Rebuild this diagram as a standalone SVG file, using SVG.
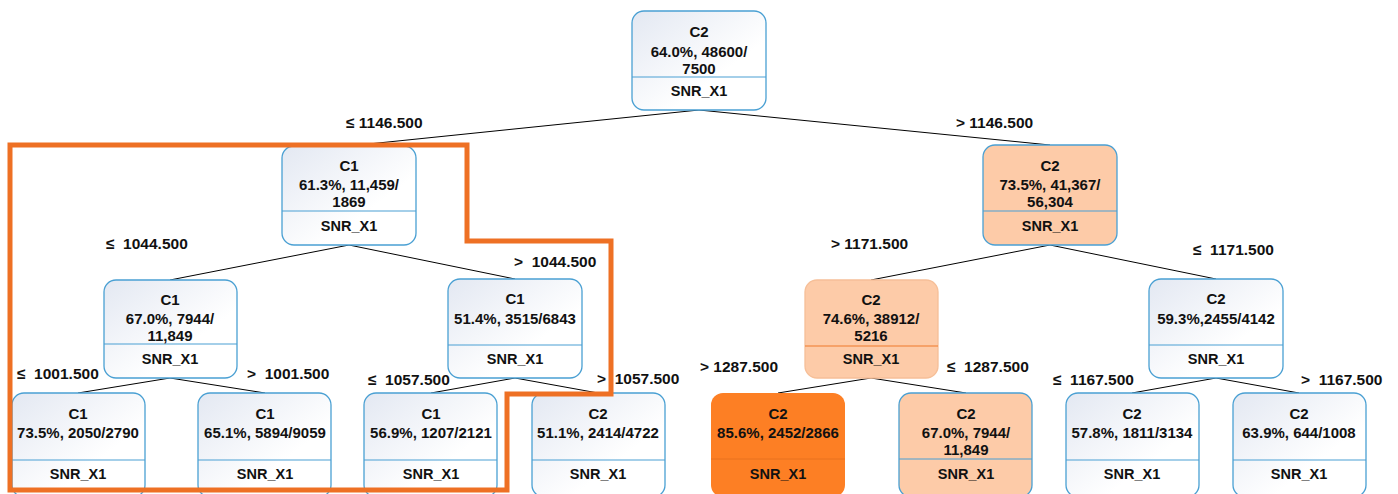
<svg xmlns="http://www.w3.org/2000/svg" width="1398" height="494" viewBox="0 0 1398 494">
  <defs>
    <linearGradient id="nodeFill" x1="0" y1="0" x2="1" y2="1">
      <stop offset="0" stop-color="#e3e8f2"/>
      <stop offset="0.65" stop-color="#ffffff"/>
      <stop offset="1" stop-color="#ffffff"/>
    </linearGradient>
    <style>
      .box { fill: url(#nodeFill); stroke: #4aa0d3; stroke-width: 1.3; }
      .box-peach { fill: #fdcba8; stroke: #4aa0d3; stroke-width: 1.3; }
      .box-peach-soft { fill: #fdcba8; stroke: #f6bf98; stroke-width: 1.3; }
      .box-hot { fill: #fd7f24; stroke: none; }
      .div { stroke: #4aa0d3; stroke-width: 1.2; }
      .div-orange { stroke: #f07a2a; stroke-width: 1.2; }
      .div-hot { stroke: #e8721e; stroke-width: 1; }
      .t { font-family: "Liberation Sans", Arial, sans-serif; font-weight: bold; font-size: 15px; fill: #111; text-anchor: middle; }
      .s { font-family: "Liberation Sans", Arial, sans-serif; font-weight: bold; font-size: 14.5px; fill: #111; text-anchor: middle; }
      .lbl { font-family: "Liberation Sans", Arial, sans-serif; font-weight: bold; font-size: 15.5px; fill: #111; white-space: pre; }
      .edge { stroke: #000; stroke-width: 1; fill: none; }
      .frame { fill: none; stroke: #ee7024; stroke-width: 5; stroke-linejoin: miter; }
    </style>
  </defs>

  <!-- connectors -->
  <g id="connectors">
    <line class="edge" x1="699" y1="110" x2="349" y2="146"/>
    <line class="edge" x1="699" y1="110" x2="1050" y2="145"/>
    <line class="edge" x1="349" y1="245" x2="170" y2="280"/>
    <line class="edge" x1="349" y1="245" x2="515" y2="279"/>
    <line class="edge" x1="1050" y1="245" x2="871" y2="280"/>
    <line class="edge" x1="1050" y1="245" x2="1216" y2="279"/>
    <line class="edge" x1="170" y1="378" x2="78" y2="393"/>
    <line class="edge" x1="170" y1="378" x2="265" y2="393"/>
    <line class="edge" x1="515" y1="378" x2="431" y2="393"/>
    <line class="edge" x1="515" y1="378" x2="598" y2="393"/>
    <line class="edge" x1="871" y1="378" x2="778" y2="393"/>
    <line class="edge" x1="871" y1="378" x2="966" y2="393"/>
    <line class="edge" x1="1216" y1="378" x2="1132" y2="393"/>
    <line class="edge" x1="1216" y1="378" x2="1299" y2="393"/>
  </g>

  <!-- split labels -->
  <g id="labels">
    <text class="lbl" x="346" y="128">≤ 1146.500</text>
    <text class="lbl" x="956" y="128">&gt; 1146.500</text>
    <text class="lbl" x="106" y="249">≤  1044.500</text>
    <text class="lbl" x="514" y="267">&gt;  1044.500</text>
    <text class="lbl" x="831" y="249">&gt; 1171.500</text>
    <text class="lbl" x="1193" y="255">≤  1171.500</text>
    <text class="lbl" x="17" y="379">≤  1001.500</text>
    <text class="lbl" x="247" y="379">&gt;  1001.500</text>
    <text class="lbl" x="368" y="385">≤  1057.500</text>
    <text class="lbl" x="597" y="384">&gt;  1057.500</text>
    <text class="lbl" x="700" y="372">&gt; 1287.500</text>
    <text class="lbl" x="947" y="372">≤  1287.500</text>
    <text class="lbl" x="1053" y="385">≤  1167.500</text>
    <text class="lbl" x="1301" y="385">&gt;  1167.500</text>
  </g>

  <!-- root -->
  <g id="n-root">
    <rect class="box" x="632" y="11" width="134" height="99" rx="12"/>
    <line class="div" x1="632" y1="77" x2="766" y2="77"/>
    <text class="t" x="699" y="37">C2</text>
    <text class="t" x="699" y="57">64.0%, 48600/</text>
    <text class="t" x="699" y="74">7500</text>
    <text class="s" x="699" y="96">SNR_X1</text>
  </g>

  <!-- level 2 -->
  <g id="n-l">
    <rect class="box" x="282" y="146" width="134" height="99" rx="12"/>
    <line class="div" x1="282" y1="211" x2="416" y2="211"/>
    <text class="t" x="349" y="171">C1</text>
    <text class="t" x="349" y="190">61.3%, 11,459/</text>
    <text class="t" x="349" y="207">1869</text>
    <text class="s" x="349" y="231">SNR_X1</text>
  </g>
  <g id="n-r">
    <rect class="box-peach" x="983" y="145" width="134" height="100" rx="12"/>
    <line class="div" x1="983" y1="211" x2="1117" y2="211"/>
    <text class="t" x="1050" y="171">C2</text>
    <text class="t" x="1050" y="190">73.5%, 41,367/</text>
    <text class="t" x="1050" y="207">56,304</text>
    <text class="s" x="1050" y="231">SNR_X1</text>
  </g>

  <!-- level 3 -->
  <g id="n-ll">
    <rect class="box" x="104" y="280" width="133" height="98" rx="12"/>
    <line class="div" x1="104" y1="344" x2="237" y2="344"/>
    <text class="t" x="170" y="305">C1</text>
    <text class="t" x="170" y="324">67.0%, 7944/</text>
    <text class="t" x="170" y="341">11,849</text>
    <text class="s" x="170" y="364">SNR_X1</text>
  </g>
  <g id="n-lr">
    <rect class="box" x="448" y="279" width="134" height="99" rx="12"/>
    <line class="div" x1="448" y1="345" x2="582" y2="345"/>
    <text class="t" x="515" y="304">C1</text>
    <text class="t" x="515" y="324">51.4%, 3515/6843</text>
    <text class="s" x="515" y="364">SNR_X1</text>
  </g>
  <g id="n-rl">
    <rect class="box-peach-soft" x="805" y="280" width="133" height="98" rx="12"/>
    <line class="div-orange" x1="805" y1="346" x2="938" y2="346"/>
    <text class="t" x="871" y="305">C2</text>
    <text class="t" x="871" y="324">74.6%, 38912/</text>
    <text class="t" x="871" y="341">5216</text>
    <text class="s" x="871" y="364">SNR_X1</text>
  </g>
  <g id="n-rr">
    <rect class="box" x="1149" y="279" width="134" height="99" rx="12"/>
    <line class="div" x1="1149" y1="345" x2="1283" y2="345"/>
    <text class="t" x="1216" y="304">C2</text>
    <text class="t" x="1216" y="324">59.3%,2455/4142</text>
    <text class="s" x="1216" y="364">SNR_X1</text>
  </g>

  <!-- level 4 -->
  <g id="n-lll">
    <rect class="box" x="12" y="393" width="133" height="104" rx="12"/>
    <line class="div" x1="12" y1="460" x2="145" y2="460"/>
    <text class="t" x="78" y="419">C1</text>
    <text class="t" x="78" y="438">73.5%, 2050/2790</text>
    <text class="s" x="78" y="479">SNR_X1</text>
  </g>
  <g id="n-llr">
    <rect class="box" x="198" y="393" width="133" height="104" rx="12"/>
    <line class="div" x1="198" y1="460" x2="331" y2="460"/>
    <text class="t" x="265" y="419">C1</text>
    <text class="t" x="265" y="438">65.1%, 5894/9059</text>
    <text class="s" x="265" y="479">SNR_X1</text>
  </g>
  <g id="n-lrl">
    <rect class="box" x="364" y="393" width="133" height="104" rx="12"/>
    <line class="div" x1="364" y1="460" x2="497" y2="460"/>
    <text class="t" x="431" y="419">C1</text>
    <text class="t" x="431" y="438">56.9%, 1207/2121</text>
    <text class="s" x="431" y="479">SNR_X1</text>
  </g>
  <g id="n-lrr">
    <rect class="box" x="532" y="393" width="133" height="104" rx="12"/>
    <line class="div" x1="532" y1="460" x2="665" y2="460"/>
    <text class="t" x="598" y="419">C2</text>
    <text class="t" x="598" y="438">51.1%, 2414/4722</text>
    <text class="s" x="598" y="479">SNR_X1</text>
  </g>
  <g id="n-rll">
    <rect class="box-hot" x="711" y="393" width="134" height="104" rx="12"/>
    <line class="div-hot" x1="711" y1="459" x2="845" y2="459"/>
    <text class="t" x="778" y="419">C2</text>
    <text class="t" x="778" y="438">85.6%, 2452/2866</text>
    <text class="s" x="778" y="479">SNR_X1</text>
  </g>
  <g id="n-rlr">
    <rect class="box-peach" x="899" y="393" width="133" height="104" rx="12"/>
    <line class="div" x1="899" y1="459" x2="1032" y2="459"/>
    <text class="t" x="966" y="419">C2</text>
    <text class="t" x="966" y="438">67.0%, 7944/</text>
    <text class="t" x="966" y="455">11,849</text>
    <text class="s" x="966" y="479">SNR_X1</text>
  </g>
  <g id="n-rrl">
    <rect class="box" x="1066" y="393" width="133" height="104" rx="12"/>
    <line class="div" x1="1066" y1="460" x2="1199" y2="460"/>
    <text class="t" x="1132" y="419">C2</text>
    <text class="t" x="1132" y="438">57.8%, 1811/3134</text>
    <text class="s" x="1132" y="479">SNR_X1</text>
  </g>
  <g id="n-rrr">
    <rect class="box" x="1233" y="393" width="133" height="104" rx="12"/>
    <line class="div" x1="1233" y1="460" x2="1366" y2="460"/>
    <text class="t" x="1299" y="419">C2</text>
    <text class="t" x="1299" y="438">63.9%, 644/1008</text>
    <text class="s" x="1299" y="479">SNR_X1</text>
  </g>

  <!-- highlighted subtree outline -->
  <g id="highlight">
    <path class="frame" d="M10,145 H467 V241 H611 V394 H507 V490 H10 Z"/>
  </g>
</svg>
